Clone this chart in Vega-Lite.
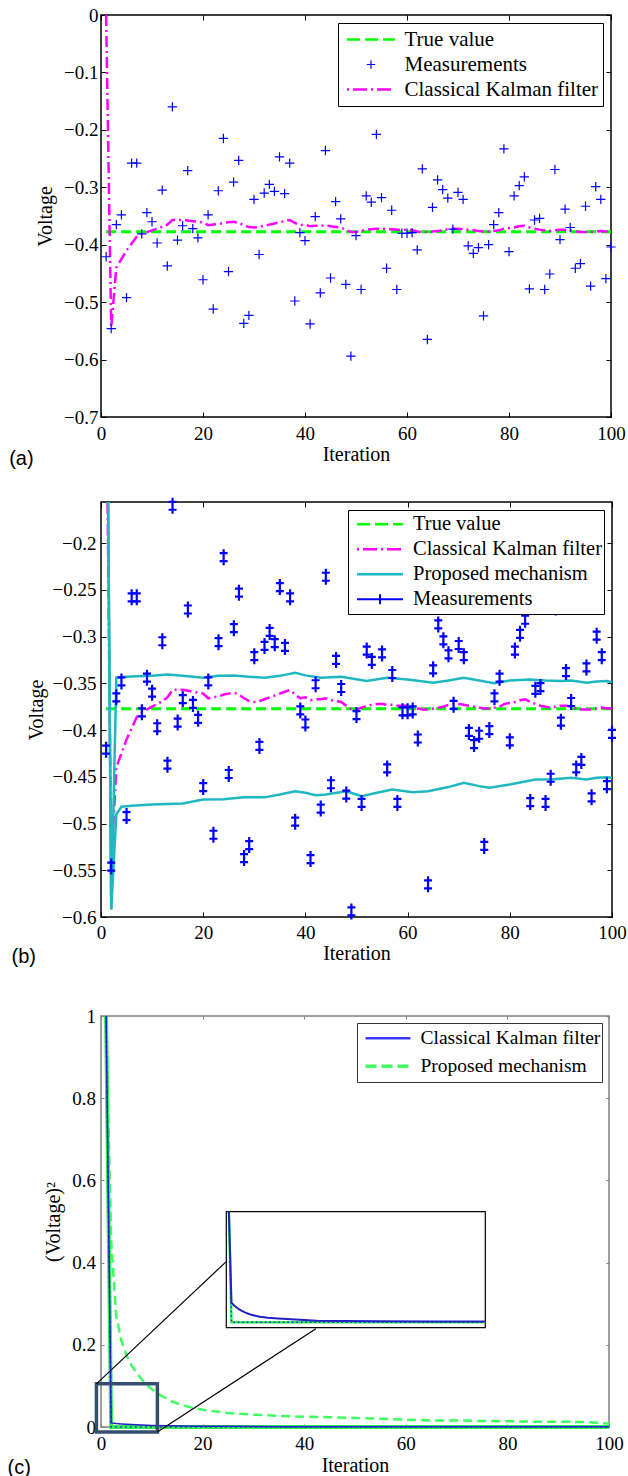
{
  "$schema": "https://vega.github.io/schema/vega-lite/v6.json",
  "background": "white",
  "padding": {"left": 6, "top": 5, "right": 0, "bottom": 0},
  "config": {
    "font": "Liberation Serif",
    "axis": {"domain": false, "grid": false, "labelFont": "Liberation Serif", "labelFontSize": 19, "labelColor": "black", "labelFlush": false, "titleFont": "Liberation Serif", "titleFontSize": 20, "titleFontWeight": "normal", "titleColor": "black", "tickColor": "black", "tickWidth": 1},
    "view": {"stroke": "black", "strokeWidth": 1.5}
  },
  "datasets": {
    "meas": [{"i":1,"v":-0.421},{"i":2,"v":-0.546},{"i":3,"v":-0.365},{"i":4,"v":-0.348},{"i":5,"v":-0.492},{"i":6,"v":-0.258},{"i":7,"v":-0.258},{"i":8,"v":-0.381},{"i":9,"v":-0.344},{"i":10,"v":-0.36},{"i":11,"v":-0.397},{"i":12,"v":-0.305},{"i":13,"v":-0.437},{"i":14,"v":-0.16},{"i":15,"v":-0.392},{"i":16,"v":-0.367},{"i":17,"v":-0.271},{"i":18,"v":-0.372},{"i":19,"v":-0.388},{"i":20,"v":-0.461},{"i":21,"v":-0.348},{"i":22,"v":-0.512},{"i":23,"v":-0.306},{"i":24,"v":-0.215},{"i":25,"v":-0.447},{"i":26,"v":-0.291},{"i":27,"v":-0.253},{"i":28,"v":-0.537},{"i":29,"v":-0.523},{"i":30,"v":-0.321},{"i":31,"v":-0.417},{"i":32,"v":-0.31},{"i":33,"v":-0.295},{"i":34,"v":-0.307},{"i":35,"v":-0.247},{"i":36,"v":-0.311},{"i":37,"v":-0.258},{"i":38,"v":-0.498},{"i":39,"v":-0.379},{"i":40,"v":-0.393},{"i":41,"v":-0.538},{"i":42,"v":-0.351},{"i":43,"v":-0.484},{"i":44,"v":-0.236},{"i":45,"v":-0.458},{"i":46,"v":-0.325},{"i":47,"v":-0.355},{"i":48,"v":-0.469},{"i":49,"v":-0.594},{"i":50,"v":-0.384},{"i":51,"v":-0.478},{"i":52,"v":-0.315},{"i":53,"v":-0.326},{"i":54,"v":-0.208},{"i":55,"v":-0.318},{"i":56,"v":-0.441},{"i":57,"v":-0.34},{"i":58,"v":-0.478},{"i":59,"v":-0.38},{"i":60,"v":-0.38},{"i":61,"v":-0.379},{"i":62,"v":-0.409},{"i":63,"v":-0.268},{"i":64,"v":-0.565},{"i":65,"v":-0.335},{"i":66,"v":-0.287},{"i":67,"v":-0.304},{"i":68,"v":-0.319},{"i":69,"v":-0.373},{"i":70,"v":-0.309},{"i":71,"v":-0.321},{"i":72,"v":-0.402},{"i":73,"v":-0.415},{"i":74,"v":-0.405},{"i":75,"v":-0.524},{"i":76,"v":-0.4},{"i":77,"v":-0.365},{"i":78,"v":-0.344},{"i":79,"v":-0.233},{"i":80,"v":-0.412},{"i":81,"v":-0.315},{"i":82,"v":-0.297},{"i":83,"v":-0.282},{"i":84,"v":-0.477},{"i":85,"v":-0.357},{"i":86,"v":-0.354},{"i":87,"v":-0.478},{"i":88,"v":-0.451},{"i":89,"v":-0.269},{"i":90,"v":-0.391},{"i":91,"v":-0.338},{"i":92,"v":-0.37},{"i":93,"v":-0.441},{"i":94,"v":-0.433},{"i":95,"v":-0.333},{"i":96,"v":-0.472},{"i":97,"v":-0.299},{"i":98,"v":-0.321},{"i":99,"v":-0.459},{"i":100,"v":-0.404}],
    "kal": [{"i":1,"v":0},{"i":2,"v":-0.544},{"i":3,"v":-0.44},{"i":4,"v":-0.425},{"i":5,"v":-0.41},{"i":6,"v":-0.398},{"i":7,"v":-0.386},{"i":8,"v":-0.381},{"i":9,"v":-0.378},{"i":10,"v":-0.375},{"i":11,"v":-0.372},{"i":12,"v":-0.369},{"i":13,"v":-0.365},{"i":14,"v":-0.357},{"i":15,"v":-0.357},{"i":16,"v":-0.357},{"i":17,"v":-0.358},{"i":18,"v":-0.359},{"i":19,"v":-0.36},{"i":20,"v":-0.361},{"i":21,"v":-0.366},{"i":22,"v":-0.365},{"i":23,"v":-0.364},{"i":24,"v":-0.362},{"i":25,"v":-0.361},{"i":26,"v":-0.36},{"i":27,"v":-0.362},{"i":28,"v":-0.366},{"i":29,"v":-0.369},{"i":30,"v":-0.37},{"i":31,"v":-0.369},{"i":32,"v":-0.367},{"i":33,"v":-0.365},{"i":34,"v":-0.363},{"i":35,"v":-0.361},{"i":36,"v":-0.359},{"i":37,"v":-0.357},{"i":38,"v":-0.362},{"i":39,"v":-0.366},{"i":40,"v":-0.365},{"i":41,"v":-0.368},{"i":42,"v":-0.367},{"i":43,"v":-0.367},{"i":44,"v":-0.366},{"i":45,"v":-0.368},{"i":46,"v":-0.369},{"i":47,"v":-0.37},{"i":48,"v":-0.374},{"i":49,"v":-0.378},{"i":50,"v":-0.378},{"i":51,"v":-0.376},{"i":52,"v":-0.374},{"i":53,"v":-0.373},{"i":54,"v":-0.372},{"i":55,"v":-0.372},{"i":56,"v":-0.373},{"i":57,"v":-0.373},{"i":58,"v":-0.374},{"i":59,"v":-0.374},{"i":60,"v":-0.374},{"i":61,"v":-0.375},{"i":62,"v":-0.377},{"i":63,"v":-0.378},{"i":64,"v":-0.378},{"i":65,"v":-0.377},{"i":66,"v":-0.376},{"i":67,"v":-0.375},{"i":68,"v":-0.373},{"i":69,"v":-0.372},{"i":70,"v":-0.372},{"i":71,"v":-0.373},{"i":72,"v":-0.374},{"i":73,"v":-0.375},{"i":74,"v":-0.376},{"i":75,"v":-0.377},{"i":76,"v":-0.377},{"i":77,"v":-0.376},{"i":78,"v":-0.375},{"i":79,"v":-0.372},{"i":80,"v":-0.371},{"i":81,"v":-0.37},{"i":82,"v":-0.368},{"i":83,"v":-0.367},{"i":84,"v":-0.37},{"i":85,"v":-0.372},{"i":86,"v":-0.374},{"i":87,"v":-0.375},{"i":88,"v":-0.376},{"i":89,"v":-0.375},{"i":90,"v":-0.374},{"i":91,"v":-0.374},{"i":92,"v":-0.375},{"i":93,"v":-0.377},{"i":94,"v":-0.378},{"i":95,"v":-0.378},{"i":96,"v":-0.378},{"i":97,"v":-0.377},{"i":98,"v":-0.376},{"i":99,"v":-0.377},{"i":100,"v":-0.377}],
    "truev": [{"i":1,"v":-0.37727},{"i":100,"v":-0.37727}],
    "up": [{"i":1,"v":0.13},{"i":2,"v":-0.592},{"i":3,"v":-0.344},{"i":5,"v":-0.343},{"i":7,"v":-0.3423},{"i":10,"v":-0.342},{"i":13,"v":-0.3405},{"i":16,"v":-0.342},{"i":20,"v":-0.344},{"i":23,"v":-0.342},{"i":26,"v":-0.3415},{"i":29,"v":-0.343},{"i":32,"v":-0.344},{"i":35,"v":-0.342},{"i":38,"v":-0.3387},{"i":40,"v":-0.3415},{"i":43,"v":-0.344},{"i":47,"v":-0.343},{"i":52,"v":-0.3476},{"i":56,"v":-0.344},{"i":60,"v":-0.346},{"i":65,"v":-0.3494},{"i":68,"v":-0.347},{"i":71,"v":-0.344},{"i":74,"v":-0.347},{"i":77,"v":-0.35},{"i":80,"v":-0.347},{"i":84,"v":-0.3458},{"i":87,"v":-0.347},{"i":90,"v":-0.3476},{"i":92,"v":-0.347},{"i":95,"v":-0.3494},{"i":97,"v":-0.348},{"i":99,"v":-0.3476},{"i":100,"v":-0.349}],
    "lo": [{"i":1,"v":0.13},{"i":2,"v":-0.592},{"i":3,"v":-0.49},{"i":4,"v":-0.482},{"i":6,"v":-0.481},{"i":10,"v":-0.4797},{"i":13,"v":-0.479},{"i":16,"v":-0.4785},{"i":20,"v":-0.4743},{"i":24,"v":-0.474},{"i":28,"v":-0.4718},{"i":32,"v":-0.472},{"i":35,"v":-0.469},{"i":38,"v":-0.4654},{"i":40,"v":-0.467},{"i":42,"v":-0.4697},{"i":44,"v":-0.469},{"i":48,"v":-0.4654},{"i":51,"v":-0.4708},{"i":54,"v":-0.467},{"i":57,"v":-0.4636},{"i":61,"v":-0.4665},{"i":64,"v":-0.4654},{"i":68,"v":-0.461},{"i":71,"v":-0.4564},{"i":74,"v":-0.46},{"i":76,"v":-0.4618},{"i":80,"v":-0.4583},{"i":83,"v":-0.455},{"i":85,"v":-0.4529},{"i":88,"v":-0.453},{"i":92,"v":-0.451},{"i":95,"v":-0.4529},{"i":97,"v":-0.451},{"i":99,"v":-0.4504},{"i":100,"v":-0.451}],
    "pd": [{"i":1,"v":1},{"i":2,"v":0.45},{"i":3,"v":0.27},{"i":4,"v":0.21},{"i":5,"v":0.175},{"i":6,"v":0.15},{"i":7,"v":0.132},{"i":8,"v":0.116},{"i":9,"v":0.102},{"i":10,"v":0.092},{"i":12,"v":0.075},{"i":14,"v":0.062},{"i":16,"v":0.053},{"i":18,"v":0.047},{"i":20,"v":0.042},{"i":25,"v":0.034},{"i":30,"v":0.03},{"i":35,"v":0.027},{"i":40,"v":0.025},{"i":45,"v":0.024},{"i":50,"v":0.022},{"i":55,"v":0.02},{"i":60,"v":0.018},{"i":65,"v":0.016},{"i":70,"v":0.016},{"i":75,"v":0.0146},{"i":80,"v":0.014},{"i":85,"v":0.013},{"i":90,"v":0.013},{"i":95,"v":0.012},{"i":98,"v":0.01},{"i":100,"v":0.008}],
    "pk": [{"i":1,"v":1},{"i":2,"v":0.0099},{"i":3,"v":0.0085},{"i":4,"v":0.0075},{"i":5,"v":0.0066},{"i":6,"v":0.0058},{"i":8,"v":0.0046},{"i":10,"v":0.0037},{"i":13,"v":0.0029},{"i":16,"v":0.0024},{"i":20,"v":0.002},{"i":25,"v":0.0016},{"i":30,"v":0.0012},{"i":35,"v":0.0009},{"i":45,"v":0.0007},{"i":60,"v":0.0006},{"i":80,"v":0.0005},{"i":100,"v":0.0005}],
    "pg": [{"i":1,"v":1},{"i":2,"v":0.0001},{"i":50,"v":0.0001},{"i":100,"v":0.0001}],
    "one": [{"k":1}]
  },
  "resolve": {"scale": {"color": "independent"}, "legend": {"color": "independent"}},
  "spacing": 22,
  "vconcat": [
    {
      "width": 510, "height": 402,
      "resolve": {"axis": {"x": "independent", "y": "independent"}},
      "layer": [
        {
          "data": {"name": "truev"},
          "mark": {"type": "line", "strokeWidth": 3, "strokeDash": [10, 5]},
          "encoding": {
            "x": {"field": "i", "type": "quantitative", "scale": {"domain": [0, 100], "nice": false, "zero": false}, "axis": {"orient": "bottom", "title": "Iteration", "values": [0, 20, 40, 60, 80, 100], "format": "~f", "labelFont": "Liberation Serif", "labelFlush": false, "tickSize": -5, "labelPadding": 12, "titlePadding": 1.5}},
            "y": {"field": "v", "type": "quantitative", "scale": {"domain": [-0.7, 0], "nice": false, "zero": false}, "axis": {"orient": "left", "title": "Voltage", "values": [-0.7, -0.6, -0.5, -0.4, -0.3, -0.2, -0.1, 0], "format": "~f", "labelFont": "Liberation Serif", "labelFlush": false, "tickSize": -5, "labelPadding": 8, "titlePadding": 8}},
            "color": {"datum": "True value", "type": "nominal",
              "scale": {"domain": ["True value", "Measurements", "Classical Kalman filter"], "range": ["#00ff00", "#0000ff", "#ff00ff"]},
              "legend": {"title": null, "orient": "top-right", "offset": 8, "padding": 4, "strokeColor": "black", "fillColor": "white",
                "labelFont": "Liberation Serif", "labelFontSize": 21, "labelColor": "black", "labelLimit": 400,
                "symbolType": "stroke", "symbolSize": 2304, "symbolStrokeWidth": 2.5, "clipHeight": 25, "rowPadding": 0, "symbolOffset": 3.5, "labelOffset": 8,
                "encode": {"symbols": {"update": {
                  "shape": {"signal": "(datum.value === 'Measurements' ? 'M-1,0H1M0,-1V1' : 'stroke')"},
                  "size": {"signal": "(datum.value === 'Measurements' ? 70 : 2304)"},
                  "stroke": {"signal": "(datum.value === 'True value' ? '#00ff00' : datum.value === 'Measurements' ? '#0000ff' : '#ff00ff')"},
                  "strokeDash": {"signal": "(datum.value === 'True value' ? [13,5] : datum.value === 'Classical Kalman filter' ? [2,4,14,4] : [1,0])"},
                  "strokeWidth": {"signal": "(datum.value === 'Measurements' ? 1.2 : 2.5)"},
                  "fill": {"value": "transparent"},
                  "opacity": {"value": 1}
                }}}
              }
            }
          }
        },
        {
          "data": {"name": "kal"},
          "mark": {"type": "line", "color": "#ff00ff", "strokeWidth": 2.5, "strokeDash": [11, 4, 2, 4]},
          "encoding": {
            "x": {"field": "i", "type": "quantitative", "scale": {"domain": [0, 100], "nice": false, "zero": false}, "axis": {"orient": "top", "labels": false, "title": null, "values": [0, 20, 40, 60, 80, 100], "tickSize": -5}},
            "y": {"field": "v", "type": "quantitative", "scale": {"domain": [-0.7, 0], "nice": false, "zero": false}, "axis": {"orient": "right", "labels": false, "title": null, "values": [-0.7, -0.6, -0.5, -0.4, -0.3, -0.2, -0.1, 0], "tickSize": -5}}
          }
        },
        {
          "data": {"name": "meas"},
          "mark": {"type": "point", "shape": "M-1,0H1M0,-1V1", "size": 87, "filled": false, "color": "#0000ff", "strokeWidth": 1.2, "opacity": 1},
          "encoding": {
            "x": {"field": "i", "type": "quantitative", "scale": {"domain": [0, 100], "nice": false, "zero": false}, "axis": null},
            "y": {"field": "v", "type": "quantitative", "scale": {"domain": [-0.7, 0], "nice": false, "zero": false}, "axis": null}
          }
        },
        {
          "data": {"name": "one"},
          "mark": {"type": "text", "text": "(a)", "font": "Liberation Sans", "fontSize": 20, "align": "left", "baseline": "middle", "color": "black"},
          "encoding": {
            "x": {"datum": -18, "type": "quantitative", "scale": {"domain": [0, 100], "nice": false, "zero": false}, "axis": null},
            "y": {"datum": -0.7735, "type": "quantitative", "scale": {"domain": [-0.7, 0], "nice": false, "zero": false}, "axis": null}
          }
        }
      ]
    },
    {
      "width": 511, "height": 415,
      "resolve": {"axis": {"x": "independent", "y": "independent"}},
      "layer": [
        {
          "data": {"name": "truev"},
          "mark": {"type": "line", "strokeWidth": 3, "strokeDash": [10, 5]},
          "encoding": {
            "x": {"field": "i", "type": "quantitative", "scale": {"domain": [0, 100], "nice": false, "zero": false}, "axis": {"orient": "bottom", "title": "Iteration", "values": [0, 20, 40, 60, 80, 100], "format": "~f", "labelFont": "Liberation Serif", "labelFlush": false, "tickSize": -5, "labelPadding": 11, "titlePadding": 1.5}},
            "y": {"field": "v", "type": "quantitative", "scale": {"domain": [-0.6, -0.156], "nice": false, "zero": false}, "axis": {"orient": "left", "title": "Voltage", "values": [-0.6, -0.55, -0.5, -0.45, -0.4, -0.35, -0.3, -0.25, -0.2], "format": "~f", "labelFont": "Liberation Serif", "labelFlush": false, "tickSize": -5, "labelPadding": 10, "titlePadding": 6}},
            "color": {"datum": "True value", "type": "nominal",
              "scale": {"domain": ["True value", "Classical Kalman filter", "Proposed mechanism", "Measurements"], "range": ["#00ff00", "#ff00ff", "#20b8c0", "#0000ff"]},
              "legend": {"title": null, "orient": "top-right", "offset": 8, "padding": 2, "strokeColor": "black", "fillColor": "white",
                "labelFont": "Liberation Serif", "labelFontSize": 20.5, "labelColor": "black", "labelLimit": 400,
                "symbolType": "stroke", "symbolSize": 2116, "symbolStrokeWidth": 2.5, "clipHeight": 24.5, "rowPadding": 0, "symbolOffset": 5.5, "labelOffset": 8.5,
                "encode": {"symbols": {"update": {
                  "shape": {"signal": "(datum.value === 'Measurements' ? 'M-1,0H1M0,-0.22V0.22' : 'stroke')"},
                  "size": {"value": 2116},
                  "stroke": {"signal": "(datum.value === 'True value' ? '#00ff00' : datum.value === 'Measurements' ? '#0000ff' : datum.value === 'Proposed mechanism' ? '#20b8c0' : '#ff00ff')"},
                  "strokeDash": {"signal": "(datum.value === 'True value' ? [13,5] : datum.value === 'Classical Kalman filter' ? [2,4,14,4] : [1,0])"},
                  "strokeWidth": {"signal": "(datum.value === 'Measurements' ? 2 : 2.5)"},
                  "fill": {"value": "transparent"},
                  "opacity": {"value": 1}
                }}}
              }
            }
          }
        },
        {
          "data": {"name": "kal"},
          "mark": {"type": "line", "color": "#ff00ff", "strokeWidth": 2.5, "strokeDash": [11, 4, 2, 4], "clip": true},
          "encoding": {
            "x": {"field": "i", "type": "quantitative", "scale": {"domain": [0, 100], "nice": false, "zero": false}, "axis": {"orient": "top", "labels": false, "title": null, "values": [0, 20, 40, 60, 80, 100], "tickSize": -5}},
            "y": {"field": "v", "type": "quantitative", "scale": {"domain": [-0.6, -0.156], "nice": false, "zero": false}, "axis": {"orient": "right", "labels": false, "title": null, "values": [-0.6, -0.55, -0.5, -0.45, -0.4, -0.35, -0.3, -0.25, -0.2], "tickSize": -5}}
          }
        },
        {
          "data": {"name": "up"},
          "mark": {"type": "line", "color": "#20b8c0", "strokeWidth": 2.5, "clip": true},
          "encoding": {
            "x": {"field": "i", "type": "quantitative", "scale": {"domain": [0, 100], "nice": false, "zero": false}, "axis": null},
            "y": {"field": "v", "type": "quantitative", "scale": {"domain": [-0.6, -0.156], "nice": false, "zero": false}, "axis": null}
          }
        },
        {
          "data": {"name": "lo"},
          "mark": {"type": "line", "color": "#20b8c0", "strokeWidth": 2.5, "clip": true},
          "encoding": {
            "x": {"field": "i", "type": "quantitative", "scale": {"domain": [0, 100], "nice": false, "zero": false}, "axis": null},
            "y": {"field": "v", "type": "quantitative", "scale": {"domain": [-0.6, -0.156], "nice": false, "zero": false}, "axis": null}
          }
        },
        {
          "data": {"name": "meas"},
          "mark": {"type": "point", "shape": "M0,-1V1M-0.5,-0.5H0.5M-0.5,0.5H0.5", "size": 256, "filled": false, "color": "#0000ff", "strokeWidth": 2.2, "opacity": 1},
          "encoding": {
            "x": {"field": "i", "type": "quantitative", "scale": {"domain": [0, 100], "nice": false, "zero": false}, "axis": null},
            "y": {"field": "v", "type": "quantitative", "scale": {"domain": [-0.6, -0.156], "nice": false, "zero": false}, "axis": null}
          }
        },
        {
          "data": {"name": "one"},
          "mark": {"type": "text", "text": "(b)", "font": "Liberation Sans", "fontSize": 20, "align": "left", "baseline": "middle", "color": "black"},
          "encoding": {
            "x": {"datum": -17.5, "type": "quantitative", "scale": {"domain": [0, 100], "nice": false, "zero": false}, "axis": null},
            "y": {"datum": -0.6424, "type": "quantitative", "scale": {"domain": [-0.6, -0.156], "nice": false, "zero": false}, "axis": null}
          }
        }
      ]
    },
    {
      "width": 508, "height": 411,
      "title": {"text": " ", "fontSize": 16, "offset": 0},
      "view": {"stroke": "#7f7f7f", "strokeWidth": 1.5},
      "resolve": {"scale": {"x": "independent", "y": "independent"}, "axis": {"x": "independent", "y": "independent"}},
      "layer": [
        {
          "resolve": {"axis": {"x": "independent", "y": "independent"}},
          "layer": [
            {
              "data": {"name": "pd"},
              "mark": {"type": "line", "strokeWidth": 2.5, "strokeDash": [9, 5]},
              "encoding": {
                "x": {"field": "i", "type": "quantitative", "scale": {"domain": [0, 100], "nice": false, "zero": false}, "axis": {"orient": "bottom", "title": "Iteration", "values": [0, 20, 40, 60, 80, 100], "format": "~f", "labelFont": "Liberation Serif", "labelFlush": false, "tickSize": -3, "tickColor": "#7f7f7f", "labelPadding": 10, "titlePadding": 2}},
                "y": {"field": "v", "type": "quantitative", "scale": {"domain": [0, 1], "nice": false, "zero": false}, "axis": {"orient": "left", "title": "(Voltage)²", "values": [0, 0.2, 0.4, 0.6, 0.8, 1], "format": "~f", "labelFont": "Liberation Serif", "labelFlush": false, "tickSize": -3, "tickColor": "#7f7f7f", "labelPadding": 8.5, "titlePadding": 8}},
                "color": {"datum": "Proposed mechanism", "type": "nominal",
                  "scale": {"domain": ["Classical Kalman filter", "Proposed mechanism"], "range": ["#3b3bff", "#40ff60"]},
                  "legend": {"title": null, "orient": "top-right", "offset": 7, "padding": 1.5, "strokeColor": "#333333", "fillColor": "white",
                    "labelFont": "Liberation Serif", "labelFontSize": 19.5, "labelColor": "black", "labelLimit": 400,
                    "symbolType": "stroke", "symbolSize": 2025, "symbolStrokeWidth": 2.5, "clipHeight": 27.7, "rowPadding": 0, "symbolOffset": 5.5, "labelOffset": 8.5,
                    "encode": {"symbols": {"update": {
                      "shape": {"value": "stroke"},
                      "size": {"value": 2025},
                      "stroke": {"signal": "(datum.value === 'Proposed mechanism' ? '#40ff60' : '#3b3bff')"},
                      "strokeDash": {"signal": "(datum.value === 'Proposed mechanism' ? [11,5] : [1,0])"},
                      "strokeWidth": {"signal": "(datum.value === 'Proposed mechanism' ? 3.5 : 2.5)"},
                      "fill": {"value": "transparent"},
                      "opacity": {"value": 1}
                    }}}
                  }
                }
              }
            },
            {
              "data": {"name": "pg"},
              "mark": {"type": "line", "color": "#30f050", "strokeWidth": 4},
              "encoding": {
                "x": {"field": "i", "type": "quantitative", "scale": {"domain": [0, 100], "nice": false, "zero": false}, "axis": {"orient": "top", "labels": false, "title": null, "values": [0, 20, 40, 60, 80, 100], "tickSize": -3, "tickColor": "#7f7f7f"}},
                "y": {"field": "v", "type": "quantitative", "scale": {"domain": [0, 1], "nice": false, "zero": false}, "axis": {"orient": "right", "labels": false, "title": null, "values": [0, 0.2, 0.4, 0.6, 0.8, 1], "tickSize": -3, "tickColor": "#7f7f7f"}}
              }
            },
            {
              "data": {"name": "pk"},
              "mark": {"type": "line", "color": "#2020c8", "strokeWidth": 1.5},
              "encoding": {
                "x": {"field": "i", "type": "quantitative", "scale": {"domain": [0, 100], "nice": false, "zero": false}, "axis": null},
                "y": {"field": "v", "type": "quantitative", "scale": {"domain": [0, 1], "nice": false, "zero": false}, "axis": null}
              }
            },
            {
              "data": {"name": "pg"},
              "mark": {"type": "line", "color": "#2020e0", "strokeWidth": 1.6, "strokeDash": [1.5, 3.5]},
              "encoding": {
                "x": {"field": "i", "type": "quantitative", "scale": {"domain": [0, 100], "nice": false, "zero": false}, "axis": null},
                "y": {"field": "v", "type": "quantitative", "scale": {"domain": [0, 1], "nice": false, "zero": false}, "axis": null}
              }
            },
            {
              "data": {"name": "one"},
              "mark": {"type": "rect", "fill": null, "fillOpacity": 0, "stroke": "#35506e", "strokeWidth": 3.5},
              "encoding": {
                "x": {"datum": -0.9, "type": "quantitative", "scale": {"domain": [0, 100], "nice": false, "zero": false}, "axis": null},
                "x2": {"datum": 11.1},
                "y": {"datum": -0.012, "type": "quantitative", "scale": {"domain": [0, 1], "nice": false, "zero": false}, "axis": null},
                "y2": {"datum": 0.105}
              }
            },
            {
              "data": {"name": "one"},
              "mark": {"type": "rule", "color": "black", "strokeWidth": 1.2},
              "encoding": {
                "x": {"datum": -0.9, "type": "quantitative", "scale": {"domain": [0, 100], "nice": false, "zero": false}, "axis": null},
                "x2": {"datum": 24.6},
                "y": {"datum": 0.105, "type": "quantitative", "scale": {"domain": [0, 1], "nice": false, "zero": false}, "axis": null},
                "y2": {"datum": 0.4018}
              }
            },
            {
              "data": {"name": "one"},
              "mark": {"type": "rule", "color": "black", "strokeWidth": 1.2},
              "encoding": {
                "x": {"datum": 11.1, "type": "quantitative", "scale": {"domain": [0, 100], "nice": false, "zero": false}, "axis": null},
                "x2": {"datum": 42.3},
                "y": {"datum": -0.012, "type": "quantitative", "scale": {"domain": [0, 1], "nice": false, "zero": false}, "axis": null},
                "y2": {"datum": 0.239}
              }
            },
            {
              "data": {"name": "one"},
              "mark": {"type": "text", "text": "(c)", "font": "Liberation Sans", "fontSize": 20, "align": "left", "baseline": "middle", "color": "black"},
              "encoding": {
                "x": {"datum": -18.4, "type": "quantitative", "scale": {"domain": [0, 100], "nice": false, "zero": false}, "axis": null},
                "y": {"datum": -0.0998, "type": "quantitative", "scale": {"domain": [0, 1], "nice": false, "zero": false}, "axis": null}
              }
            }
          ]
        },
        {
          "layer": [
            {
              "data": {"name": "one"},
              "mark": {"type": "rect", "fill": "white", "stroke": "black", "strokeWidth": 1.2},
              "encoding": {
                "x": {"datum": 0, "type": "quantitative", "scale": {"domain": [0, 100], "range": [125.3, 384.3], "nice": false, "zero": false}, "axis": null},
                "x2": {"datum": 100},
                "y": {"datum": -0.0026, "type": "quantitative", "scale": {"domain": [-0.0026, 0.0554], "range": [311.7, 195.7], "nice": false, "zero": false, "clamp": true}, "axis": null},
                "y2": {"datum": 0.0554}
              }
            },
            {
              "data": {"name": "pg"},
              "mark": {"type": "line", "color": "#30f050", "strokeWidth": 2.5},
              "encoding": {
                "x": {"field": "i", "type": "quantitative", "axis": null},
                "y": {"field": "v", "type": "quantitative", "axis": null}
              }
            },
            {
              "data": {"name": "pg"},
              "mark": {"type": "line", "color": "#2020e0", "strokeWidth": 1.4, "strokeDash": [1.5, 3]},
              "encoding": {
                "x": {"field": "i", "type": "quantitative", "axis": null},
                "y": {"field": "v", "type": "quantitative", "axis": null}
              }
            },
            {
              "data": {"name": "pk"},
              "mark": {"type": "line", "color": "#2020c8", "strokeWidth": 2},
              "encoding": {
                "x": {"field": "i", "type": "quantitative", "axis": null},
                "y": {"field": "v", "type": "quantitative", "axis": null}
              }
            }
          ]
        }
      ]
    }
  ]
}
